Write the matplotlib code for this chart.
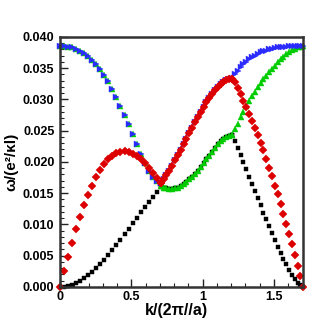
import numpy as np
import matplotlib
matplotlib.use("Agg")
import matplotlib.pyplot as plt
from matplotlib.ticker import MultipleLocator, FormatStrFormatter

# high-symmetry path (units of 2*pi/a): Gamma - M - X - Gamma
K_NODES = [0.0, 0.7071, 1.2071, 1.7071]
N_PER_SEG = 26

# ---- band values, per segment (omega / (e^2/kappa l)) ----
black_GM = [0.0, 0.00004, 0.00016, 0.00035, 0.00062, 0.00096, 0.00137, 0.00184, 0.00239,
            0.00299, 0.00364, 0.00434, 0.00508, 0.00588, 0.00671, 0.00755, 0.00842, 0.00929,
            0.01018, 0.01106, 0.01194, 0.01280, 0.01364, 0.01445, 0.01524, 0.01597]
black_MX = [0.0161, 0.0159, 0.0158, 0.0157, 0.0157, 0.0158, 0.0159, 0.0162, 0.0165, 0.0168,
            0.0172, 0.0176, 0.0181, 0.0186, 0.0192, 0.0198, 0.0204, 0.0210, 0.0216, 0.0222,
            0.0228, 0.0233, 0.0237, 0.0240, 0.0242, 0.0243]
black_XG = [0.0243, 0.0233, 0.0222, 0.0211, 0.0200, 0.0188, 0.0176, 0.0165, 0.0153, 0.0142,
            0.0131, 0.0119, 0.0108, 0.0097, 0.0086, 0.0075, 0.0064, 0.0054, 0.0045, 0.0036,
            0.0027, 0.0019, 0.0012, 0.0007, 0.0003, 0.0000]

red_GM = [0.0, 0.0025, 0.0048, 0.0070, 0.0092, 0.0112, 0.0131, 0.0147, 0.0162, 0.0176,
          0.0187, 0.0197, 0.0205, 0.0210, 0.0214, 0.0216, 0.0217, 0.0216, 0.0213, 0.0209,
          0.0204, 0.0198, 0.0191, 0.0183, 0.0175, 0.0166]
red_MX = [0.0166, 0.0172, 0.0179, 0.0186, 0.0194, 0.0203, 0.0211, 0.0219, 0.0228, 0.0237,
          0.0246, 0.0255, 0.0263, 0.0272, 0.0280, 0.0288, 0.0295, 0.0302, 0.0309, 0.0315,
          0.0320, 0.0325, 0.0328, 0.0331, 0.0332, 0.0333]
red_XG = [0.0333, 0.0327, 0.0318, 0.0308, 0.0297, 0.0287, 0.0277, 0.0266, 0.0255, 0.0243,
          0.0231, 0.0219, 0.0205, 0.0191, 0.0177, 0.0162, 0.0148, 0.0133, 0.0117, 0.0101,
          0.0085, 0.0068, 0.0051, 0.0034, 0.0017, 0.0000]

green_GM = [0.0385, 0.0385, 0.0384, 0.0383, 0.0381, 0.0378, 0.0374, 0.0369, 0.0363, 0.0356,
            0.0348, 0.0339, 0.0329, 0.0317, 0.0304, 0.0290, 0.0275, 0.0260, 0.0244, 0.0228,
            0.0213, 0.0199, 0.0186, 0.0176, 0.0169, 0.0166]
green_MX = [0.0161, 0.0159, 0.0158, 0.0157, 0.0157, 0.0158, 0.0159, 0.0162, 0.0165, 0.0168,
            0.0172, 0.0176, 0.0181, 0.0186, 0.0192, 0.0198, 0.0204, 0.0210, 0.0216, 0.0222,
            0.0228, 0.0233, 0.0237, 0.0240, 0.0242, 0.0243]
green_XG = [0.0243, 0.0252, 0.0261, 0.0271, 0.0280, 0.0289, 0.0297, 0.0305, 0.0312, 0.0319,
            0.0326, 0.0332, 0.0338, 0.0344, 0.0349, 0.0354, 0.0359, 0.0364, 0.0368, 0.0372,
            0.0376, 0.0379, 0.0381, 0.0383, 0.0384, 0.0385]

blue_GM = [0.0385, 0.0385, 0.0384, 0.0383, 0.0381, 0.0378, 0.0374, 0.0369, 0.0363, 0.0356,
           0.0348, 0.0339, 0.0329, 0.0317, 0.0304, 0.0290, 0.0275, 0.0260, 0.0244, 0.0228,
           0.0213, 0.0199, 0.0186, 0.0176, 0.0169, 0.0166]
blue_MX = [0.0166, 0.0172, 0.0179, 0.0186, 0.0194, 0.0203, 0.0211, 0.0219, 0.0228, 0.0237,
           0.0246, 0.0255, 0.0263, 0.0272, 0.0280, 0.0288, 0.0295, 0.0302, 0.0309, 0.0315,
           0.0320, 0.0325, 0.0328, 0.0331, 0.0332, 0.0333]
blue_XG = [0.0334, 0.0340, 0.0346, 0.0351, 0.0356, 0.0360, 0.0364, 0.0367, 0.0370, 0.0373,
           0.0375, 0.0377, 0.0378, 0.0380, 0.0381, 0.0382, 0.0383, 0.0383, 0.0384, 0.0384,
           0.0385, 0.0385, 0.0385, 0.0385, 0.0385, 0.0385]

# k sampling along the path
k = np.concatenate([np.linspace(K_NODES[i], K_NODES[i + 1], N_PER_SEG) for i in range(3)])

bands = [
    (black_GM + black_MX + black_XG, "s", "#000000", 3.5),
    (green_GM + green_MX + green_XG, "^", "#00cc00", 4.4),
    (blue_GM + blue_MX + blue_XG, ">", "#2b2bff", 4.4),
    (red_GM + red_MX + red_XG, "D", "#dd0000", 3.6),
]

plt.rcParams["font.family"] = ["Liberation Sans", "DejaVu Sans"]
plt.rcParams["font.weight"] = "bold"

fig = plt.figure(figsize=(3.29, 3.29), dpi=100)
ax = fig.add_axes([0.1824, 0.1277, 0.7395, 0.7604])

for vals, mk, col, ms in bands:
    ax.plot(k, vals, linestyle="none", marker=mk, color=col, markersize=ms,
            markeredgewidth=0.3, markeredgecolor=col, clip_on=False)

ax.set_xlim(K_NODES[0], K_NODES[-1])
ax.set_ylim(0, 0.04)
ax.xaxis.set_major_locator(MultipleLocator(0.5))
ax.xaxis.set_minor_locator(MultipleLocator(0.1))
ax.yaxis.set_major_locator(MultipleLocator(0.005))
ax.yaxis.set_minor_locator(MultipleLocator(0.001))
ax.yaxis.set_major_formatter(FormatStrFormatter("%.3f"))
ax.xaxis.set_major_formatter(plt.FuncFormatter(lambda v, p: "%g" % v))

ax.tick_params(which="both", direction="in", top=False, right=False, colors="#222222",
               labelcolor="black", labelsize=9)
ax.tick_params(which="major", length=6, width=1.0, pad=3)
ax.tick_params(which="minor", length=3, width=0.8)
ax.tick_params(axis="y", which="major", pad=4)
for lab in ax.get_xticklabels() + ax.get_yticklabels():
    lab.set_fontweight("bold")
for s in ax.spines.values():
    s.set_linewidth(1.8)
    s.set_color("#333333")

ax.set_xlabel("k/(2π//a)", fontsize=11.5, fontweight="bold")
ax.set_ylabel("ω/(e²/κl)", fontsize=11, fontweight="bold")
ax.xaxis.set_label_coords(0.48, -0.092)
ax.yaxis.set_label_coords(-0.198, 0.5)
ax.xaxis.label.set_verticalalignment("center")
ax.yaxis.label.set_verticalalignment("center")

fig.savefig("out.png", dpi=100)
